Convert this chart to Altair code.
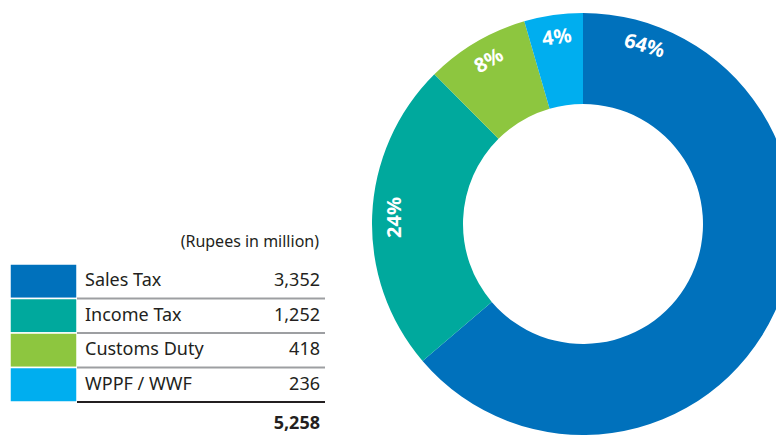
import altair as alt
import pandas as pd

# ---- data ----
categories = ["Sales Tax", "Income Tax", "Customs Duty", "WPPF / WWF"]
amounts = [3352, 1252, 418, 236]
amount_labels = ["3,352", "1,252", "418", "236"]
pct_labels = ["64%", "24%", "8%", "4%"]
colors = ["#0071BC", "#00A99D", "#8DC63F", "#00AEEF"]
total_label = "5,258"
unit_label = "(Rupees in million)"

# label placement around the ring (degrees clockwise from north) and text rotation
label_theta = [19, 272, 330, 352]
label_rotation = [16, 270, 330, 352]

df = pd.DataFrame({
    "cat": categories,
    "amount": amounts,
    "amount_label": amount_labels,
    "pct": pct_labels,
    "idx": list(range(len(categories))),
    "lab_theta": label_theta,
    "lab_rot": label_rotation,
})

FONT = "Noto Sans"
W, H = 768, 427
CX, CY = 575, 216

color = alt.Color("cat:N", scale=alt.Scale(domain=categories, range=colors), legend=None)
rows = alt.Y("cat:N", sort=categories, axis=None,
             scale=alt.Scale(range=[256, 394], paddingInner=0, paddingOuter=0))

base = alt.Chart(df)

donut = base.mark_arc(innerRadius=120, outerRadius=211).encode(
    theta=alt.Theta("amount:Q", stack=True),
    order=alt.Order("idx:Q"),
    color=color,
    x=alt.value(CX), y=alt.value(CY),
)

pct_text = base.mark_text(radius=188, font=FONT, fontSize=20, fontWeight="bold",
                          color="white", align="center", baseline="middle").encode(
    theta=alt.Theta("lab_theta:Q", stack=None,
                    scale=alt.Scale(domain=[0, 360], range=[0, 6.283185307179586])),
    angle=alt.Angle("lab_rot:Q", scale=None),
    text="pct:N",
    x=alt.value(CX), y=alt.value(CY),
)

squares = base.mark_rect(stroke="white", strokeWidth=1.5).encode(
    y=rows, x=alt.value(2), x2=alt.value(69), color=color,
)

names = base.mark_text(align="left", baseline="middle", font=FONT, fontSize=18,
                       color="#231F20").encode(
    y=rows, x=alt.value(77), text="cat:N",
)

vals = base.mark_text(align="right", baseline="middle", font=FONT, fontSize=18,
                      color="#231F20").encode(
    y=rows, x=alt.value(312), text="amount_label:N",
)

rule_y = alt.Y("cat:N", sort=categories, axis=None, bandPosition=1,
               scale=alt.Scale(range=[256, 394], paddingInner=0, paddingOuter=0))

gray_rules = base.transform_filter(
    alt.datum.idx < len(categories) - 1
).mark_rule(color="#9D9FA2", strokeWidth=2).encode(
    y=rule_y, x=alt.value(69), x2=alt.value(317),
)

black_rule = base.transform_filter(
    alt.datum.idx == len(categories) - 1
).mark_rule(color="#231F20", strokeWidth=2).encode(
    y=rule_y, x=alt.value(69), x2=alt.value(317),
)

unit = alt.Chart(pd.DataFrame({"t": [unit_label]})).mark_text(
    align="right", baseline="middle", font=FONT, fontSize=16, color="#231F20"
).encode(text="t:N", x=alt.value(311), y=alt.value(234))

total = alt.Chart(pd.DataFrame({"t": [total_label]})).mark_text(
    align="right", baseline="alphabetic", font=FONT, fontSize=18, fontWeight="bold",
    color="#231F20"
).encode(text="t:N", x=alt.value(312), y=alt.value(421))

chart = alt.layer(
    donut, pct_text, squares, gray_rules, black_rule, names, vals, unit, total
).resolve_scale(theta="independent").properties(
    width=W, height=H, padding=0,
    autosize=alt.AutoSizeParams(type="none"),
).configure_view(stroke=None)

chart.save("out.html", embed_options={"renderer": "svg", "actions": False})
